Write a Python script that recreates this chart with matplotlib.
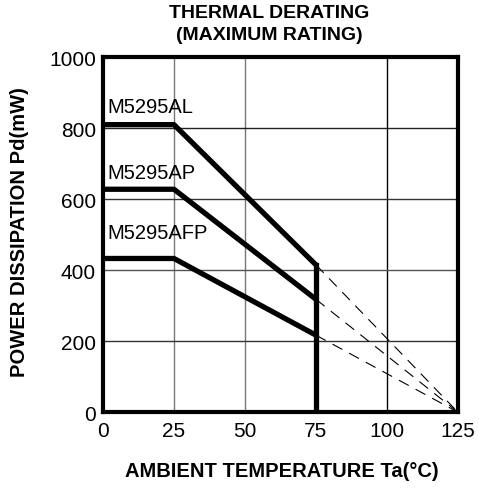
import matplotlib
matplotlib.use("Agg")
import matplotlib.pyplot as plt

plt.rcParams['font.family'] = ['Liberation Sans', 'DejaVu Sans']

# Data
series_names = ["M5295AL", "M5295AP", "M5295AFP"]
temps = [0, 25, 75]
al_vals = [810, 810, 415]
ap_vals = [628, 628, 318]
afp_vals = [433, 433, 217]
zero_temp = 125
x_ticks = [0, 25, 50, 75, 100, 125]
y_ticks = [0, 200, 400, 600, 800, 1000]

fig = plt.figure(figsize=(4.79, 4.89), dpi=100)
ax = fig.add_axes([0.215, 0.155, 0.741, 0.726])

# grid
for x, c in [(25, '#777777'), (50, '#777777'), (100, '#000000')]:
    ax.axvline(x, color=c, lw=1.0, zorder=1)
for y, c in [(200, '#333333'), (400, '#555555'), (600, '#333333'), (800, '#222222')]:
    ax.axhline(y, color=c, lw=1.0, zorder=1)

label_pos = [(1.5, 862), (1.5, 674), (1.5, 506)]
for name, vals, lp in zip(series_names, [al_vals, ap_vals, afp_vals], label_pos):
    ax.plot(temps, vals, color='black', lw=3.8, solid_capstyle='butt', zorder=3)
    ax.plot([temps[-1], zero_temp], [vals[-1], 0], color='black', lw=0.8,
            dashes=(10, 7), zorder=2)
    ax.text(lp[0], lp[1], name, fontsize=14.5, va='center', ha='left')

# vertical cutoff at 75
ax.plot([75, 75], [0, al_vals[-1]], color='black', lw=3.8, zorder=3)

ax.set_xlim(0, 125)
ax.set_ylim(0, 1000)
ax.set_xticks(x_ticks)
ax.set_yticks(y_ticks)
ax.tick_params(length=0, labelsize=15, pad=5)
ax.tick_params(axis='x', pad=6)
for s in ax.spines.values():
    s.set_linewidth(3)

fig.text(0.563, 0.972, "THERMAL DERATING", ha='center', va='center',
         fontsize=14, fontweight='bold')
fig.text(0.563, 0.928, "(MAXIMUM RATING)", ha='center', va='center',
         fontsize=14, fontweight='bold')
fig.text(0.589, 0.035, "AMBIENT TEMPERATURE Ta(°C)", ha='center', va='center',
         fontsize=14.5, fontweight='bold')
fig.text(0.040, 0.525, "POWER DISSIPATION Pd(mW)", ha='center', va='center',
         rotation=90, fontsize=14.5, fontweight='bold')

fig.savefig("out.png", dpi=100)
